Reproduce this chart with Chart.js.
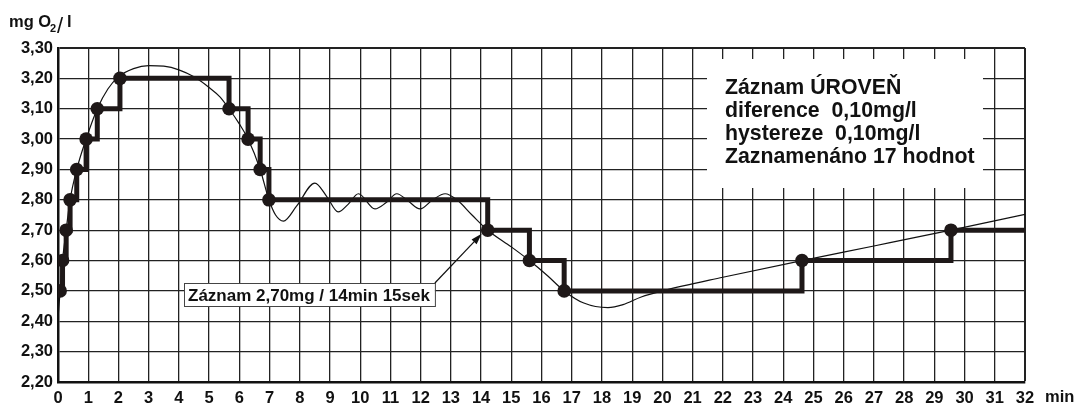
<!DOCTYPE html>
<html>
<head>
<meta charset="utf-8">
<script src="https://cdn.jsdelivr.net/npm/chart.js@4.4.1/dist/chart.umd.min.js"></script>
<style>
    html, body { margin: 0; padding: 0; background: #fff; }
    #wrap { width: 1077px; height: 405px; }
</style>
</head>
<body>
<div id="wrap"><canvas id="chart" width="1077" height="405"></canvas></div>
<script>
// Recorded values (17 records, step plot)
const recordTimes = [0.07, 0.15, 0.27, 0.40, 0.62, 0.93, 1.30, 2.05, 5.66, 6.29, 6.69, 6.98, 14.22, 15.60, 16.75, 24.62, 29.55];
const recordValues = [2.50, 2.60, 2.70, 2.80, 2.90, 3.00, 3.10, 3.20, 3.10, 3.00, 2.90, 2.80, 2.70, 2.60, 2.50, 2.60, 2.70];
const endTime = 32;

// Measured signal (thin curve)
const curveTimes = [0, 0.07, 0.15, 0.27, 0.40, 0.62, 0.93, 1.30, 1.65, 2.0, 2.5, 3.0, 3.5, 4.0, 4.5, 5.0, 5.35, 5.66, 6.0, 6.29, 6.69, 6.98, 7.2, 7.46, 7.9, 8.5, 8.9, 9.27, 9.6, 9.94, 10.49, 10.85, 11.21, 11.6, 11.98, 12.4, 12.81, 13.2, 13.7, 14.22, 15.0, 15.6, 16.2, 16.75, 17.4, 18.2, 18.7, 19.3, 20.0, 22.0, 24.62, 27.0, 29.55, 32.0];
const curveValues = [2.41, 2.50, 2.60, 2.70, 2.80, 2.90, 3.00, 3.10, 3.165, 3.205, 3.232, 3.242, 3.24, 3.228, 3.205, 3.17, 3.14, 3.10, 3.05, 3.00, 2.90, 2.80, 2.75, 2.73, 2.78, 2.855, 2.81, 2.76, 2.785, 2.82, 2.77, 2.79, 2.82, 2.795, 2.77, 2.80, 2.82, 2.80, 2.75, 2.70, 2.645, 2.60, 2.55, 2.50, 2.46, 2.445, 2.455, 2.48, 2.50, 2.545, 2.60, 2.648, 2.70, 2.752];

const xTicks = [0, 1, 2, 3, 4, 5, 6, 7, 8, 9, 10, 11, 12, 13, 14, 15, 16, 17, 18, 19, 20, 21, 22, 23, 24, 25, 26, 27, 28, 29, 30, 31, 32];
const yTicks = [2.2, 2.3, 2.4, 2.5, 2.6, 2.7, 2.8, 2.9, 3.0, 3.1, 3.2, 3.3];

const infoLines = ['Záznam ÚROVEŇ', 'diference  0,10mg/l', 'hystereze  0,10mg/l', 'Zaznamenáno 17 hodnot'];
const noteText = 'Záznam 2,70mg / 14min 15sek';

const INK = '#1e1818';
const FONT = '"Liberation Sans", Arial, sans-serif';

const stepData = recordTimes.map((t, i) => ({ x: t, y: recordValues[i] }));
stepData.push({ x: endTime, y: recordValues[recordValues.length - 1] });
const stepRadius = stepData.map((p, i) => i < recordTimes.length ? 6.8 : 0);
const curveData = curveTimes.map((t, i) => ({ x: t, y: curveValues[i] }));

// White info box sits over the grid, under the data
const infoBoxPlugin = {
    id: 'infoBox',
    beforeDatasetsDraw(chart) {
        const ctx = chart.ctx;
        ctx.save();
        ctx.fillStyle = '#fff';
        ctx.fillRect(707, 59, 276, 129);
        ctx.fillStyle = '#111';
        ctx.font = 'bold 21.3px ' + FONT;
        ctx.textBaseline = 'alphabetic';
        infoLines.forEach((s, i) => ctx.fillText(s, 725, 94 + i * 23));
        ctx.restore();
    }
};

// Axis title, unit label, note box with arrow
const labelsPlugin = {
    id: 'labels',
    afterDraw(chart) {
        const ctx = chart.ctx;
        const xs = chart.scales.x, ys = chart.scales.y;
        ctx.save();
        ctx.fillStyle = '#111';
        ctx.textBaseline = 'alphabetic';
        ctx.font = 'bold 16.5px ' + FONT;
        ctx.fillText('mg O', 9, 27);
        ctx.font = 'bold 11px ' + FONT;
        ctx.fillText('2', 50, 32);
        ctx.font = '22px ' + FONT;
        ctx.fillText('/', 57, 33);
        ctx.font = 'bold 16.5px ' + FONT;
        ctx.fillText('l', 67, 27);

        ctx.textBaseline = 'top';
        ctx.font = 'bold 16.5px ' + FONT;
        ctx.fillText('min', 1045, chart.chartArea.bottom + 7);

        // note box
        ctx.font = 'bold 17px ' + FONT;
        const w = ctx.measureText(noteText).width;
        const bx = 184, by = 283;
        ctx.fillStyle = '#fff';
        ctx.fillRect(bx, by, w + 9, 23);
        ctx.strokeStyle = '#444';
        ctx.lineWidth = 1;
        ctx.strokeRect(bx + 0.5, by + 0.5, w + 9, 23);
        ctx.fillStyle = '#111';
        ctx.textBaseline = 'alphabetic';
        ctx.fillText(noteText, bx + 4, by + 18);

        // arrow to the 14:15 record
        const x0 = bx + w + 9, y0 = by;
        const x1 = xs.getPixelForValue(14.02), y1 = ys.getPixelForValue(2.688);
        const ang = Math.atan2(y1 - y0, x1 - x0);
        ctx.strokeStyle = '#111';
        ctx.lineWidth = 1.2;
        ctx.beginPath();
        ctx.moveTo(x0, y0);
        ctx.lineTo(x1 - 8 * Math.cos(ang), y1 - 8 * Math.sin(ang));
        ctx.stroke();
        ctx.beginPath();
        ctx.moveTo(x1, y1);
        ctx.lineTo(x1 - 11 * Math.cos(ang) + 3.5 * Math.sin(ang), y1 - 11 * Math.sin(ang) - 3.5 * Math.cos(ang));
        ctx.lineTo(x1 - 11 * Math.cos(ang) - 3.5 * Math.sin(ang), y1 - 11 * Math.sin(ang) + 3.5 * Math.cos(ang));
        ctx.closePath();
        ctx.fill();
        ctx.restore();
    }
};

Chart.defaults.font.family = FONT;

new Chart(document.getElementById('chart'), {
    type: 'line',
    data: {
        datasets: [
            {
                label: 'záznam',
                data: stepData,
                stepped: true,
                borderColor: INK,
                backgroundColor: INK,
                borderWidth: 5,
                pointRadius: stepRadius,
                pointBackgroundColor: INK,
                pointBorderWidth: 0,
                fill: false
            },
            {
                label: 'průběh',
                data: curveData,
                borderColor: '#111',
                borderWidth: 1.2,
                pointRadius: 0,
                cubicInterpolationMode: 'monotone',
                fill: false
            }
        ]
    },
    options: {
        responsive: false,
        animation: false,
        devicePixelRatio: 1,
        layout: { padding: { top: 48, right: 52, left: 0, bottom: 0 } },
        plugins: {
            legend: { display: false },
            tooltip: { enabled: false }
        },
        scales: {
            x: {
                type: 'linear',
                min: 0,
                max: 32,
                afterFit: (s) => { s.height = 23; },
                afterBuildTicks: (s) => { s.ticks = xTicks.map(v => ({ value: v })); },
                grid: {
                    color: '#222',
                    lineWidth: (c) => c.tick && c.tick.value === 32 ? 2 : 1.3,
                    drawTicks: false
                },
                border: { color: '#111', width: 2.5 },
                ticks: {
                    color: '#111',
                    padding: 7,
                    maxRotation: 0,
                    autoSkip: false,
                    font: { size: 16.5, weight: 'bold' },
                    callback: (v) => String(v)
                }
            },
            y: {
                min: 2.2,
                max: 3.3,
                afterFit: (s) => { s.width = 58; },
                afterBuildTicks: (s) => { s.ticks = yTicks.map(v => ({ value: v })); },
                grid: {
                    color: '#222',
                    lineWidth: (c) => c.tick && Math.abs(c.tick.value - 3.3) < 1e-6 ? 2 : 1.3,
                    drawTicks: false
                },
                border: { color: '#111', width: 2.5 },
                ticks: {
                    color: '#111',
                    padding: 5,
                    autoSkip: false,
                    font: { size: 16.5, weight: 'bold' },
                    callback: (v) => Number(v).toFixed(2).replace('.', ',')
                }
            }
        }
    },
    plugins: [infoBoxPlugin, labelsPlugin]
});
</script>
</body>
</html>
